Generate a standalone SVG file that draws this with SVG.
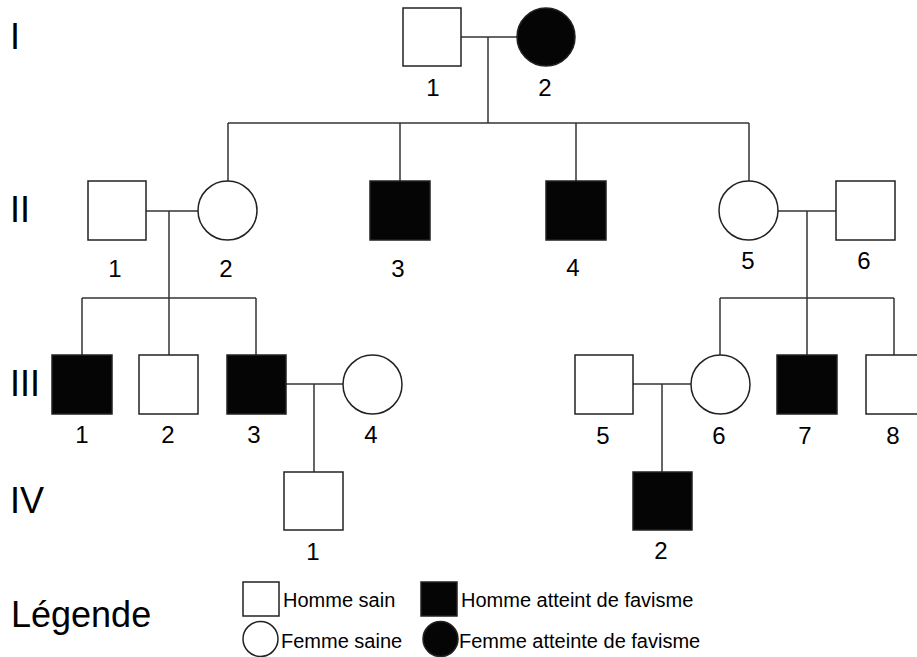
<svg xmlns="http://www.w3.org/2000/svg" width="917" height="657" viewBox="0 0 917 657">
<style>
.m{fill:#fff;stroke:#222;stroke-width:1.5}
.a{fill:#050505;stroke:#222;stroke-width:1.5}
.c line{stroke:#333;stroke-width:1.5}
text{font-family:"Liberation Sans",Arial,sans-serif;fill:#000}
.n{font-size:24px;text-anchor:middle}
.g{font-size:36px}
.l{font-size:20px}
</style>
<rect width="917" height="657" fill="#fff"/>
<g id="generations">
<text class="g" x="10" y="49">I</text>
<text class="g" x="10" y="222">II</text>
<text class="g" x="10" y="396">III</text>
<text class="g" x="10" y="513">IV</text>
</g>
<g class="c" id="connectors">
<line x1="461" y1="37" x2="517" y2="37"/>
<line x1="488" y1="37" x2="488" y2="123"/>
<line x1="228" y1="123" x2="749" y2="123"/>
<line x1="228" y1="123" x2="228" y2="181"/>
<line x1="400" y1="123" x2="400" y2="181"/>
<line x1="576" y1="123" x2="576" y2="181"/>
<line x1="749" y1="123" x2="749" y2="181"/>
<line x1="146" y1="211" x2="198" y2="211"/>
<line x1="169" y1="211" x2="169" y2="298"/>
<line x1="82" y1="298" x2="256" y2="298"/>
<line x1="82" y1="298" x2="82" y2="355"/>
<line x1="169" y1="298" x2="169" y2="355"/>
<line x1="256" y1="298" x2="256" y2="355"/>
<line x1="778" y1="211" x2="836" y2="211"/>
<line x1="807" y1="211" x2="807" y2="298"/>
<line x1="720" y1="298" x2="894" y2="298"/>
<line x1="720" y1="298" x2="720" y2="355"/>
<line x1="807" y1="298" x2="807" y2="355"/>
<line x1="894" y1="298" x2="894" y2="355"/>
<line x1="286" y1="384" x2="343" y2="384"/>
<line x1="314" y1="384" x2="314" y2="472"/>
<line x1="633" y1="384" x2="691" y2="384"/>
<line x1="662" y1="384" x2="662" y2="472"/>
</g>
<g id="I-1"><rect class="m" x="403" y="8" width="58" height="58"/><text class="n" x="433" y="96">1</text></g>
<g id="I-2"><circle class="a" cx="546" cy="37" r="29"/><text class="n" x="545" y="96">2</text></g>
<g id="II-1"><rect class="m" x="88" y="181" width="58" height="59"/><text class="n" x="115" y="277">1</text></g>
<g id="II-2"><circle class="m" cx="227.5" cy="210.5" r="29.5"/><text class="n" x="226" y="277">2</text></g>
<g id="II-3"><rect class="a" x="370" y="181" width="60" height="59"/><text class="n" x="398" y="277">3</text></g>
<g id="II-4"><rect class="a" x="546" y="181" width="60" height="59"/><text class="n" x="573" y="276">4</text></g>
<g id="II-5"><circle class="m" cx="748.5" cy="210.5" r="29.5"/><text class="n" x="748" y="269">5</text></g>
<g id="II-6"><rect class="m" x="836" y="181" width="59" height="59"/><text class="n" x="864" y="269">6</text></g>
<g id="III-1"><rect class="a" x="52" y="355" width="60" height="59"/><text class="n" x="82" y="443">1</text></g>
<g id="III-2"><rect class="m" x="139" y="355" width="59" height="59"/><text class="n" x="168" y="443">2</text></g>
<g id="III-3"><rect class="a" x="227" y="355" width="59" height="59"/><text class="n" x="254" y="443">3</text></g>
<g id="III-4"><circle class="m" cx="372.5" cy="384.5" r="29.5"/><text class="n" x="371" y="443">4</text></g>
<g id="III-5"><rect class="m" x="575" y="355" width="58" height="59"/><text class="n" x="603" y="444">5</text></g>
<g id="III-6"><circle class="m" cx="720.5" cy="384.5" r="29.5"/><text class="n" x="719" y="444">6</text></g>
<g id="III-7"><rect class="a" x="777" y="355" width="60" height="59"/><text class="n" x="805" y="444">7</text></g>
<g id="III-8"><rect class="m" x="866" y="355" width="59" height="59"/><text class="n" x="893" y="444">8</text></g>
<g id="IV-1"><rect class="m" x="284" y="472" width="59" height="58"/><text class="n" x="313" y="560">1</text></g>
<g id="IV-2"><rect class="a" x="633" y="472" width="59" height="58"/><text class="n" x="661" y="559">2</text></g>
<g id="legend">
<text class="g" x="11" y="627">Légende</text>
<rect class="m" x="243" y="582" width="36" height="34"/>
<text class="l" x="283" y="607">Homme sain</text>
<rect class="a" x="421" y="582" width="36" height="34"/>
<text class="l" x="461" y="607">Homme atteint de favisme</text>
<circle class="m" cx="260.5" cy="639" r="17.5"/>
<text class="l" x="281" y="648">Femme saine</text>
<circle class="a" cx="440.5" cy="639" r="17.5"/>
<text class="l" x="459" y="648">Femme atteinte de favisme</text>
</g>
</svg>
